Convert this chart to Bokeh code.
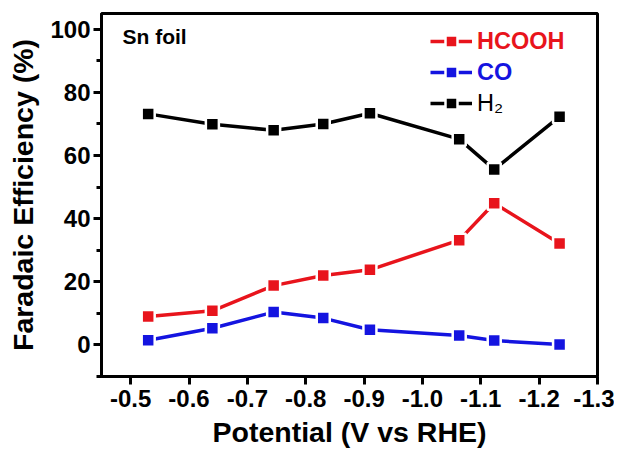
from bokeh.plotting import figure
from bokeh.models import Range1d, FixedTicker, PrintfTickFormatter, Legend, LegendItem, Label
from bokeh.embed import file_html
from bokeh.resources import INLINE

potential = [-0.53, -0.64, -0.745, -0.83, -0.91, -1.063, -1.123, -1.235]
hcooh = [9.0, 10.8, 18.8, 22.0, 23.8, 33.2, 44.9, 32.1]
co = [1.5, 5.3, 10.4, 8.5, 4.8, 3.0, 1.4, 0.1]
h2 = [73.2, 69.9, 68.0, 70.0, 73.4, 65.2, 55.6, 72.3]
x_ticks = [-0.5, -0.6, -0.7, -0.8, -0.9, -1.0, -1.1, -1.2, -1.3]
y_ticks = [0, 20, 40, 60, 80, 100]
y_minor = [-10, 10, 30, 50, 70, 90]

FONT = "Liberation Sans"
RED = "#e8141c"
BLUE = "#1414e0"
BLACK = "#000000"

p = figure(width=614, height=450, output_backend="svg", toolbar_location=None,
           x_range=Range1d(-0.45, -1.3), y_range=Range1d(-10, 105),
           min_border_left=101, min_border_right=17, min_border_top=13, min_border_bottom=72)
p.grid.visible = False
p.outline_line_color = "black"
p.outline_line_width = 3
p.background_fill_color = "white"
p.border_fill_color = "white"

for ax in (p.xaxis[0], p.yaxis[0]):
    ax.axis_line_width = 3
    ax.major_tick_line_width = 3
    ax.minor_tick_line_width = 3
    ax.major_tick_in = 0
    ax.major_tick_out = 8
    ax.minor_tick_in = 0
    ax.minor_tick_out = 5
    ax.major_label_text_font = FONT
    ax.major_label_text_font_style = "bold"
    ax.major_label_text_font_size = "24px"
    ax.major_label_text_color = "black"
    ax.axis_label_text_font = FONT
    ax.axis_label_text_font_style = "bold"
    ax.axis_label_text_font_size = "28.5px"
    ax.axis_label_text_color = "black"

p.xaxis[0].ticker = FixedTicker(ticks=x_ticks, minor_ticks=[])
p.xaxis[0].formatter = PrintfTickFormatter(format="%.1f")
p.xaxis[0].axis_label = "Potential (V vs RHE)"
p.xaxis[0].major_label_standoff = 5
p.xaxis[0].axis_label_standoff = 6

p.yaxis[0].ticker = FixedTicker(ticks=y_ticks, minor_ticks=y_minor)
p.yaxis[0].axis_label = "Faradaic Efficiency (%)"
p.yaxis[0].major_label_standoff = 3
p.yaxis[0].axis_label_standoff = 8

series = [("HCOOH", hcooh, RED, "bold"), ("CO", co, BLUE, "bold"), ("H\u2082", h2, BLACK, "normal")]
legend_y = [320, 289, 258]
for (name, vals, col, style), ly in zip(series, legend_y):
    ln = p.line(potential, vals, line_color=col, line_width=3.5)
    sc = p.scatter(potential, vals, marker="square", size=13, fill_color=col,
                   line_color="white", line_width=2.5)
    leg = Legend(items=[LegendItem(label=name, renderers=[ln, sc])],
                 location=(329, ly), padding=0, margin=0, spacing=0,
                 glyph_width=42, glyph_height=30, label_height=30, label_standoff=5,
                 label_text_font=FONT, label_text_font_style=style,
                 label_text_font_size="23.5px", label_text_color=col,
                 border_line_color=None, background_fill_alpha=0)
    p.add_layout(leg)

p.add_layout(Label(x=-0.486, y=97.6, text="Sn foil", text_font=FONT, text_font_style="bold",
                   text_font_size="21px", text_align="left", text_baseline="middle",
                   text_color="black"))

open("out.html", "w").write(file_html(p, INLINE))
